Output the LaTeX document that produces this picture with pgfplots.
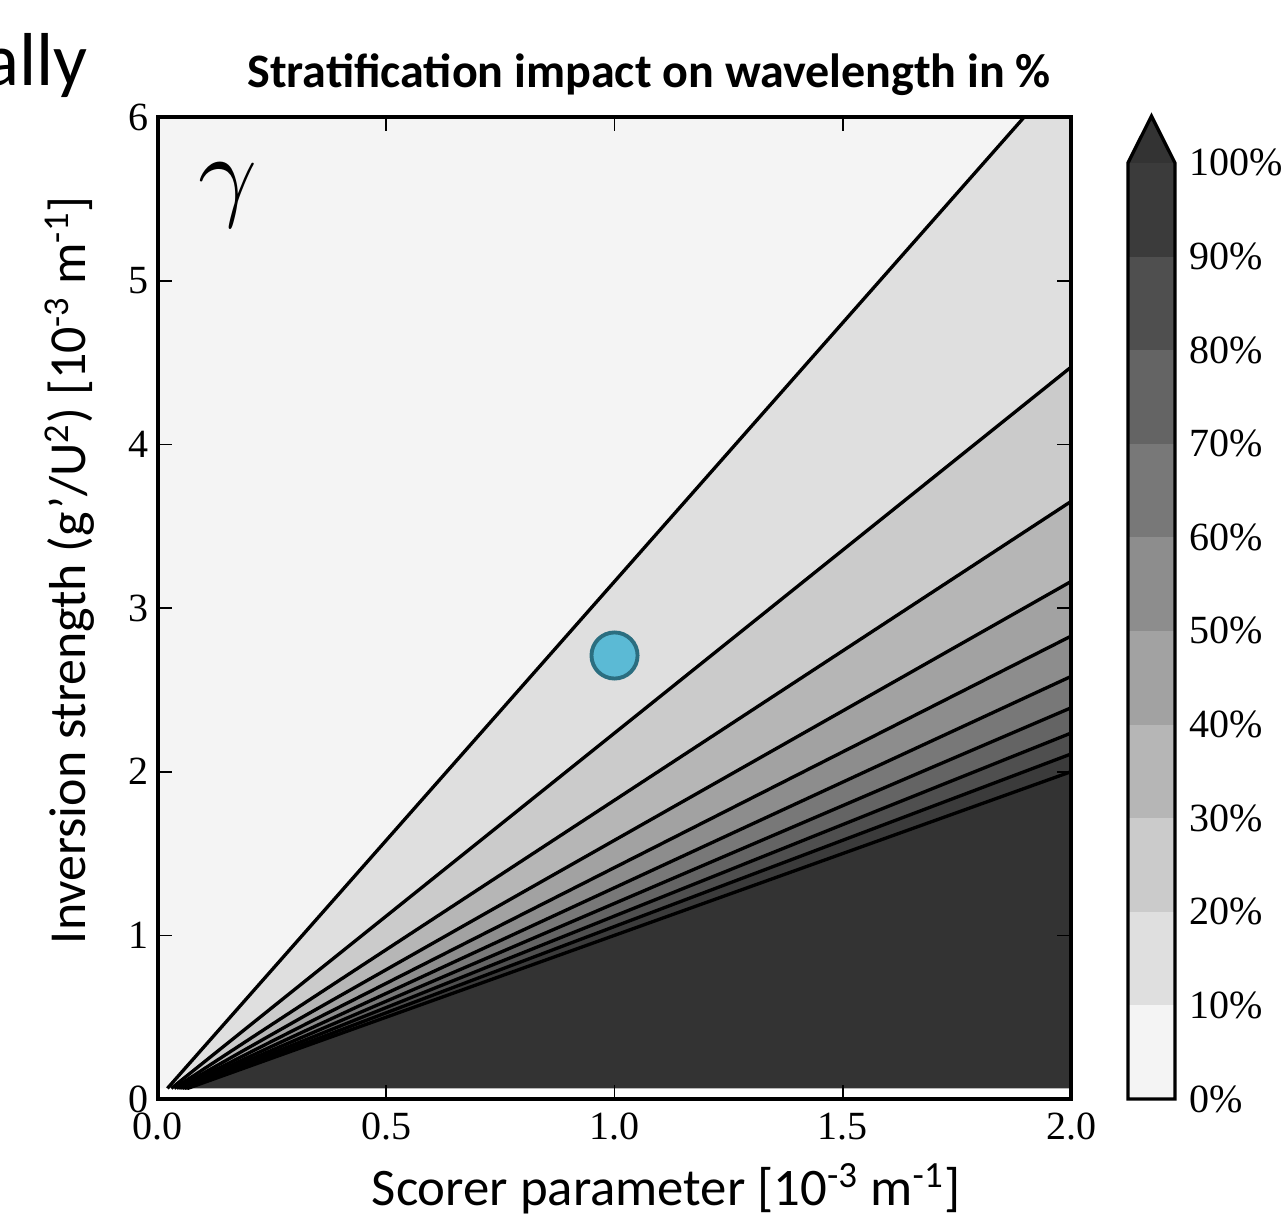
\documentclass[border=0pt]{standalone}
\usepackage{fontspec}
\setmainfont{Liberation Serif}
\newfontfamily\calibri{Carlito}
\usepackage{pgfplots}
\pgfplotsset{compat=1.18}
\definecolor{c0}{RGB}{244,244,244}
\definecolor{c1}{RGB}{223,223,223}
\definecolor{c2}{RGB}{203,203,203}
\definecolor{c3}{RGB}{182,182,182}
\definecolor{c4}{RGB}{162,162,162}
\definecolor{c5}{RGB}{141,141,141}
\definecolor{c6}{RGB}{120,120,120}
\definecolor{c7}{RGB}{100,100,100}
\definecolor{c8}{RGB}{79,79,79}
\definecolor{c9}{RGB}{59,59,59}
\definecolor{c10}{RGB}{51,51,51}
\definecolor{ptfill}{RGB}{91,186,213}
\definecolor{ptedge}{RGB}{43,110,128}
\begin{document}
\begin{tikzpicture}
\begin{axis}[
  at={(0pt,0pt)}, anchor=south west,
  scale only axis, width=328.7pt, height=353.5pt,
  xmin=0, xmax=2, ymin=0, ymax=6,
  xtick={0,0.5,1,1.5,2}, ytick={0,1,2,3,4,5,6},
  /pgf/number format/assume math mode=true,
  xticklabel style={yshift=-1.5pt, /pgf/number format/fixed, /pgf/number format/fixed zerofill, /pgf/number format/precision=1},
  tick label style={font=\fontsize{14.4}{16}\selectfont},
  axis line style={line width=1.2pt},
  major tick style={line width=0.6pt, black},
  major tick length=5pt, tick align=inside,
  axis on top,
]
% filled bands (0-10% ... 100%+)
\addplot[fill=c0, draw=none] coordinates {(0,0.065)(0.0206,0.065)(2.1,6.6408)(0,6.6408)} -- cycle;
\addplot[fill=c1, draw=none] coordinates {(0.0206,0.065)(2.1,6.6408)(2.1,4.6958)(0.0291,0.065)} -- cycle;
\addplot[fill=c2, draw=none] coordinates {(0.0291,0.065)(2.1,4.6958)(2.1,3.8340)(0.0356,0.065)} -- cycle;
\addplot[fill=c3, draw=none] coordinates {(0.0356,0.065)(2.1,3.8340)(2.1,3.3203)(0.0411,0.065)} -- cycle;
\addplot[fill=c4, draw=none] coordinates {(0.0411,0.065)(2.1,3.3203)(2.1,2.9698)(0.0460,0.065)} -- cycle;
\addplot[fill=c5, draw=none] coordinates {(0.0460,0.065)(2.1,2.9698)(2.1,2.7111)(0.0503,0.065)} -- cycle;
\addplot[fill=c6, draw=none] coordinates {(0.0503,0.065)(2.1,2.7111)(2.1,2.5099)(0.0544,0.065)} -- cycle;
\addplot[fill=c7, draw=none] coordinates {(0.0544,0.065)(2.1,2.5099)(2.1,2.3478)(0.0581,0.065)} -- cycle;
\addplot[fill=c8, draw=none] coordinates {(0.0581,0.065)(2.1,2.3478)(2.1,2.2136)(0.0617,0.065)} -- cycle;
\addplot[fill=c9, draw=none] coordinates {(0.0617,0.065)(2.1,2.2136)(2.1,2.1000)(0.0650,0.065)} -- cycle;
\addplot[fill=c10, draw=none] coordinates {(0.0650,0.065)(2.1,2.1000)(2.1,0.065)} -- cycle;
% contour lines
\addplot[black, line width=1.2pt] coordinates {(0.0206,0.065)(2.1,6.6408)};
\addplot[black, line width=1.2pt] coordinates {(0.0291,0.065)(2.1,4.6958)};
\addplot[black, line width=1.2pt] coordinates {(0.0356,0.065)(2.1,3.8340)};
\addplot[black, line width=1.2pt] coordinates {(0.0411,0.065)(2.1,3.3203)};
\addplot[black, line width=1.2pt] coordinates {(0.0460,0.065)(2.1,2.9698)};
\addplot[black, line width=1.2pt] coordinates {(0.0503,0.065)(2.1,2.7111)};
\addplot[black, line width=1.2pt] coordinates {(0.0544,0.065)(2.1,2.5099)};
\addplot[black, line width=1.2pt] coordinates {(0.0581,0.065)(2.1,2.3478)};
\addplot[black, line width=1.2pt] coordinates {(0.0617,0.065)(2.1,2.2136)};
\addplot[black, line width=1.2pt] coordinates {(0.0650,0.065)(2.1,2.1000)};
% point
\addplot[only marks, mark=*, mark size=8.3pt, mark options={fill=ptfill, draw=ptedge, line width=1.4pt}] coordinates {(1.0,2.71)};
\node[scale=3.7] at (axis cs:0.153,5.52) {$\gamma$};
\end{axis}
% colorbar
\begin{axis}[
  at={(349.2pt,0pt)}, anchor=south west,
  scale only axis, width=16.9pt, height=337pt,
  xmin=0, xmax=1, ymin=0, ymax=100, clip=false,
  axis line style={draw=none},
  xtick=\empty,
  ytick={0,10,20,30,40,50,60,70,80,90,100},
  yticklabels={0\%,10\%,20\%,30\%,40\%,50\%,60\%,70\%,80\%,90\%,100\%},
  ytick pos=right, yticklabel pos=right,
  tick align=inside, major tick length=5pt,
  major tick style={line width=0.6pt, black},
  yticklabel style={xshift=1.8pt, font=\fontsize{14.4}{16}\selectfont},
]
\addplot[fill=c0, draw=none] coordinates {(0,0)(1,0)(1,10)(0,10)} -- cycle;
\addplot[fill=c1, draw=none] coordinates {(0,10)(1,10)(1,20)(0,20)} -- cycle;
\addplot[fill=c2, draw=none] coordinates {(0,20)(1,20)(1,30)(0,30)} -- cycle;
\addplot[fill=c3, draw=none] coordinates {(0,30)(1,30)(1,40)(0,40)} -- cycle;
\addplot[fill=c4, draw=none] coordinates {(0,40)(1,40)(1,50)(0,50)} -- cycle;
\addplot[fill=c5, draw=none] coordinates {(0,50)(1,50)(1,60)(0,60)} -- cycle;
\addplot[fill=c6, draw=none] coordinates {(0,60)(1,60)(1,70)(0,70)} -- cycle;
\addplot[fill=c7, draw=none] coordinates {(0,70)(1,70)(1,80)(0,80)} -- cycle;
\addplot[fill=c8, draw=none] coordinates {(0,80)(1,80)(1,90)(0,90)} -- cycle;
\addplot[fill=c9, draw=none] coordinates {(0,90)(1,90)(1,100)(0,100)} -- cycle;
\addplot[fill=c10, draw=none] coordinates {(0,100)(1,100)(0.5,105)} -- cycle;
\addplot[black, line width=1.2pt, line join=miter] coordinates {(0,0)(1,0)(1,100)(0.5,105)(0,100)} -- cycle;
\end{axis}
\node[anchor=base, font=\calibri\bfseries\fontsize{17.3}{20}\selectfont] at (176.8pt,364.3pt) {Stratification impact on wavelength in \%};
\node[anchor=base, font=\calibri\fontsize{19}{22}\selectfont] at (182.9pt,-38.2pt) {Scorer parameter [10\textsuperscript{-3} m\textsuperscript{-1}]};
\node[rotate=90, anchor=center, font=\calibri\fontsize{18.7}{22}\selectfont] at (-31.7pt,190.4pt) {Inversion strength (g’/U\textsuperscript{2}) [10\textsuperscript{-3} m\textsuperscript{-1}]};
\node[anchor=base east, inner sep=0pt, font=\calibri\fontsize{27}{30}\selectfont] at (-25.2pt,364.8pt) {ally};
\pgfresetboundingbox
\path[use as bounding box] (-56.88pt,-41.76pt) rectangle (404.28pt,395.64pt);
\end{tikzpicture}
\end{document}
